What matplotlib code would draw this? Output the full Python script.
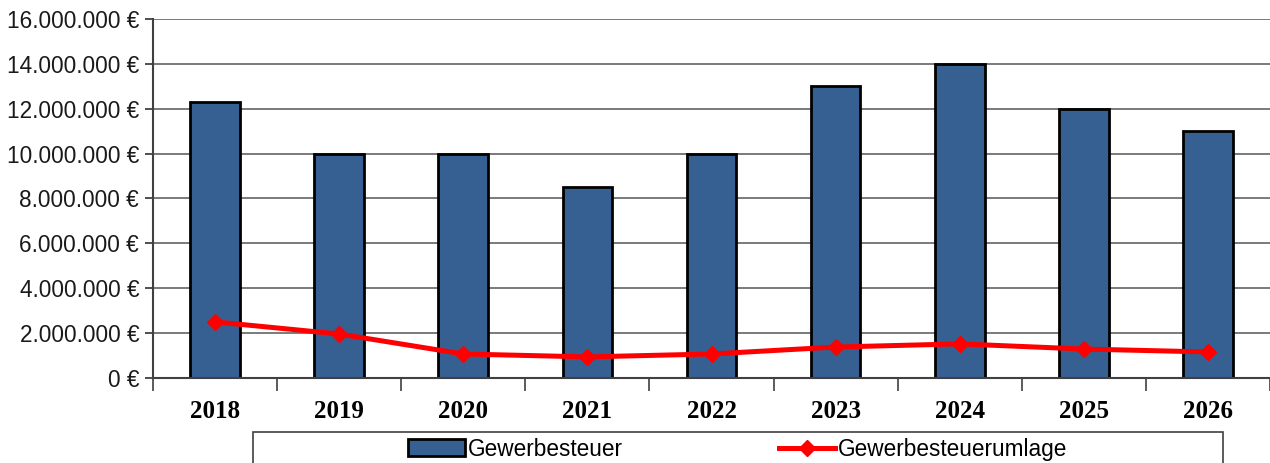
import numpy as np
import matplotlib.pyplot as plt
from matplotlib.patches import Rectangle
from matplotlib.ticker import FuncFormatter, FixedLocator

# data
years = ["2018", "2019", "2020", "2021", "2022", "2023", "2024", "2025", "2026"]
gewerbesteuer = [12300000, 10000000, 10000000, 8500000, 10000000, 13000000, 14000000, 12000000, 11000000]
umlage = [2500000, 1960000, 1070000, 940000, 1070000, 1380000, 1520000, 1290000, 1160000]

x = np.arange(len(years))

fig = plt.figure(figsize=(12.7, 4.63), dpi=100)
ax = fig.add_axes([0.1205, 0.1836, 0.8795, 0.7754])

# grid behind bars
ax.set_axisbelow(True)
ax.yaxis.grid(True, color="#707070", linewidth=1.3)

bars = ax.bar(x, gewerbesteuer, width=0.4, color="#376092", edgecolor="black",
              linewidth=2, label="Gewerbesteuer", zorder=2)
line, = ax.plot(x, umlage, color="#ff0000", linewidth=3.6, marker="D", markersize=8,
                label="Gewerbesteuerumlage", zorder=3)

ax.set_xlim(-0.5, len(years) - 0.5)
ax.set_ylim(0, 16000000)
ax.set_yticks(np.arange(0, 16000001, 2000000))


def euro(v, pos):
    return f"{int(v):,} €".replace(",", ".")


ax.yaxis.set_major_formatter(FuncFormatter(euro))
ax.tick_params(axis="y", direction="out", length=6, width=1.3, color="#404040",
               labelsize=16.3, pad=4)
for lab in ax.get_yticklabels():
    lab.set_fontfamily("Liberation Sans")
    lab.set_color("#1a1a1a")

ax.set_xticks(x)
ax.set_xticklabels(years, fontfamily="Liberation Serif", fontweight="bold", fontsize=18)
ax.xaxis.set_minor_locator(FixedLocator(np.arange(-0.5, len(years), 1.0)))
ax.tick_params(axis="x", which="major", length=0, pad=16)
ax.tick_params(axis="x", which="minor", direction="out", length=9, width=1.2, color="#404040")

for side in ["top", "right"]:
    ax.spines[side].set_visible(False)
ax.spines["left"].set_color("#404040")
ax.spines["left"].set_linewidth(1.5)
ax.spines["bottom"].set_color("#404040")
ax.spines["bottom"].set_linewidth(1.5)

# legend box at the bottom, cut off by the figure edge
fig.patches.append(Rectangle((0.199, -0.05), 0.764, 0.117, transform=fig.transFigure,
                             facecolor="white", edgecolor="#404040", linewidth=1.2))
fig.legend(handles=[bars, line], loc="center", bbox_to_anchor=(0.581, 0.030), ncol=2,
           frameon=False, prop={"family": "Liberation Sans", "size": 16.3},
           handlelength=2.5, handletextpad=0.12, columnspacing=6.9, handleheight=0.75)

plt.savefig("out.png", dpi=100)
